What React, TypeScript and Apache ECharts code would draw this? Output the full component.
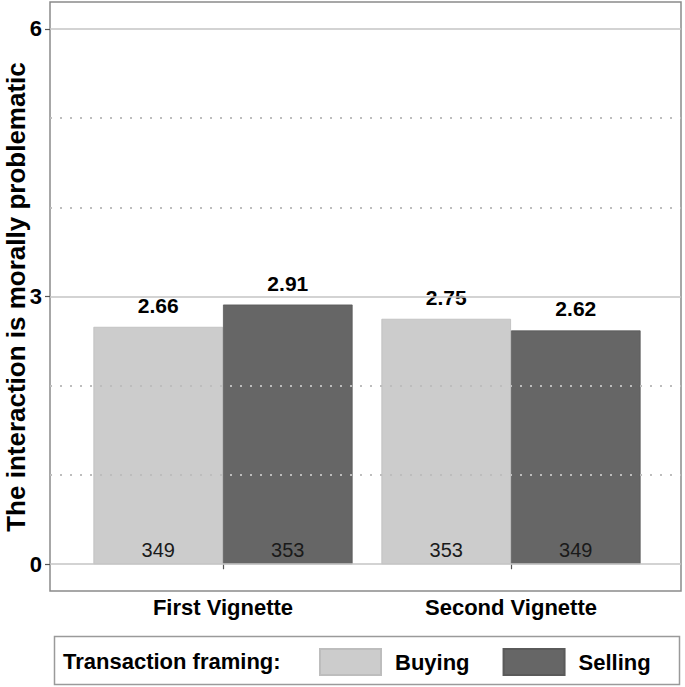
import React, { useEffect, useRef } from "react";
import * as echarts from "echarts";

const categories = ["First Vignette", "Second Vignette"];
const buyingMeans = [2.66, 2.75];
const sellingMeans = [2.91, 2.62];
const buyingCounts = [349, 353];
const sellingCounts = [353, 349];
const majorTicks = [0, 3, 6];
const minorTicks = [1, 2, 4, 5];
const yTitle = "The interaction is morally problematic";
const legendTitle = "Transaction framing:";

const FONT = "Liberation Sans, Arial, sans-serif";
const LIGHT = "#cccccc";
const DARK = "#666666";

export default function App() {
  const ref = useRef<HTMLDivElement>(null);
  useEffect(() => {
    if (!ref.current) return;
    const chart = echarts.init(ref.current, null, { renderer: "svg" });
    const yBase = { type: "value", min: -0.3, max: 6.3 };
    const panel = { top: 2, height: 589, outerBoundsMode: "none", containLabel: false };
    const barGrid = { left: 79, width: 576, ...panel };
    const option: any = {
      animation: false,
      textStyle: { fontFamily: FONT },
      grid: [
        { left: 50, width: 631, ...panel, show: true, borderColor: "#8a8a8a", borderWidth: 1.5, backgroundColor: "#fff", z: 0 },
        { ...barGrid },
        { ...barGrid },
      ],
      xAxis: [
        { type: "value", gridIndex: 0, min: 0, max: 1, show: false },
        {
          type: "category",
          gridIndex: 1,
          data: categories,
          axisLine: { show: false },
          axisTick: { show: true, alignWithLabel: true, length: 5, lineStyle: { color: "#555", width: 1.2 } },
          axisLabel: { color: "#000", fontWeight: "bold", fontSize: 22, fontFamily: FONT, margin: 5 },
        },
        { type: "category", gridIndex: 2, data: categories, show: false },
      ],
      yAxis: [
        {
          ...yBase,
          gridIndex: 0,
          splitLine: { show: false },
          axisLine: { show: false },
          axisTick: { show: true, customValues: majorTicks, length: 5, lineStyle: { color: "#555", width: 1.2 } },
          axisLabel: { customValues: majorTicks, color: "#000", fontWeight: "bold", fontSize: 22, fontFamily: FONT, margin: 8 },
        },
        { ...yBase, gridIndex: 1, show: false },
        { ...yBase, gridIndex: 2, show: false },
      ],
      legend: {
        data: ["Buying", "Selling"],
        left: 319,
        top: 648,
        padding: 0,
        itemWidth: 61,
        itemHeight: 26,
        itemGap: 33,
        icon: "rect",
        selectedMode: false,
        textStyle: { color: "#000", fontWeight: "bold", fontSize: 22, fontFamily: FONT, padding: [0, 0, 0, 9] },
      },
      graphic: [
        {
          type: "text",
          x: 16,
          y: 297,
          rotation: Math.PI / 2,
          style: { text: yTitle, fill: "#000", font: `bold 26px ${FONT}`, align: "center", verticalAlign: "middle" },
        },
        { type: "rect", shape: { x: 54.5, y: 636.5, width: 625, height: 48 }, style: { fill: "none", stroke: "#9a9a9a", lineWidth: 1.5 } },
        { type: "text", x: 63, y: 661, style: { text: legendTitle, fill: "#000", font: `bold 22px ${FONT}`, verticalAlign: "middle" } },
      ],
      series: [
        {
          type: "line",
          xAxisIndex: 0,
          yAxisIndex: 0,
          data: [],
          silent: true,
          z: 1,
          markLine: {
            silent: true,
            symbol: "none",
            label: { show: false },
            animation: false,
            data: [
              ...majorTicks.map((v) => ({ yAxis: v, lineStyle: { color: "#c4c4c4", width: 1.5, type: "solid" } })),
              ...minorTicks.map((v) => ({ yAxis: v, lineStyle: { color: "#bdbdbd", width: 1.8, type: [2, 8] } })),
            ],
          },
        },
        {
          name: "Buying",
          type: "bar",
          xAxisIndex: 1,
          yAxisIndex: 1,
          data: buyingMeans,
          barWidth: "45%",
          barGap: "0%",
          z: 3,
          itemStyle: { color: LIGHT, borderColor: "#bdbdbd", borderWidth: 0.8 },
          label: { show: true, position: "top", distance: 11, color: "#000", fontWeight: "bold", fontSize: 21, fontFamily: FONT, formatter: (p: any) => p.value.toFixed(2) },
        },
        {
          name: "Selling",
          type: "bar",
          xAxisIndex: 1,
          yAxisIndex: 1,
          data: sellingMeans,
          barWidth: "45%",
          barGap: "0%",
          z: 3,
          itemStyle: { color: DARK, borderColor: "#5a5a5a", borderWidth: 0.8 },
          label: { show: true, position: "top", distance: 11, color: "#000", fontWeight: "bold", fontSize: 21, fontFamily: FONT, formatter: (p: any) => p.value.toFixed(2) },
        },
        {
          name: "Buying N",
          type: "bar",
          xAxisIndex: 2,
          yAxisIndex: 2,
          data: buyingMeans.map((v, i) => ({ value: v, n: buyingCounts[i] })),
          barWidth: "45%",
          barGap: "0%",
          z: 4,
          silent: true,
          itemStyle: { color: "rgba(0,0,0,0)" },
          label: { show: true, position: "insideBottom", distance: 4, color: "#1a1a1a", fontSize: 20, fontFamily: FONT, formatter: (p: any) => String(p.data.n) },
        },
        {
          name: "Selling N",
          type: "bar",
          xAxisIndex: 2,
          yAxisIndex: 2,
          data: sellingMeans.map((v, i) => ({ value: v, n: sellingCounts[i] })),
          barWidth: "45%",
          barGap: "0%",
          z: 4,
          silent: true,
          itemStyle: { color: "rgba(0,0,0,0)" },
          label: { show: true, position: "insideBottom", distance: 4, color: "#1a1a1a", fontSize: 20, fontFamily: FONT, formatter: (p: any) => String(p.data.n) },
        },
      ],
    };
    chart.setOption(option);
    return () => chart.dispose();
  }, []);
  return <div ref={ref} style={{ width: 685, height: 687, position: "absolute", left: 0, top: 0 }} />;
}
